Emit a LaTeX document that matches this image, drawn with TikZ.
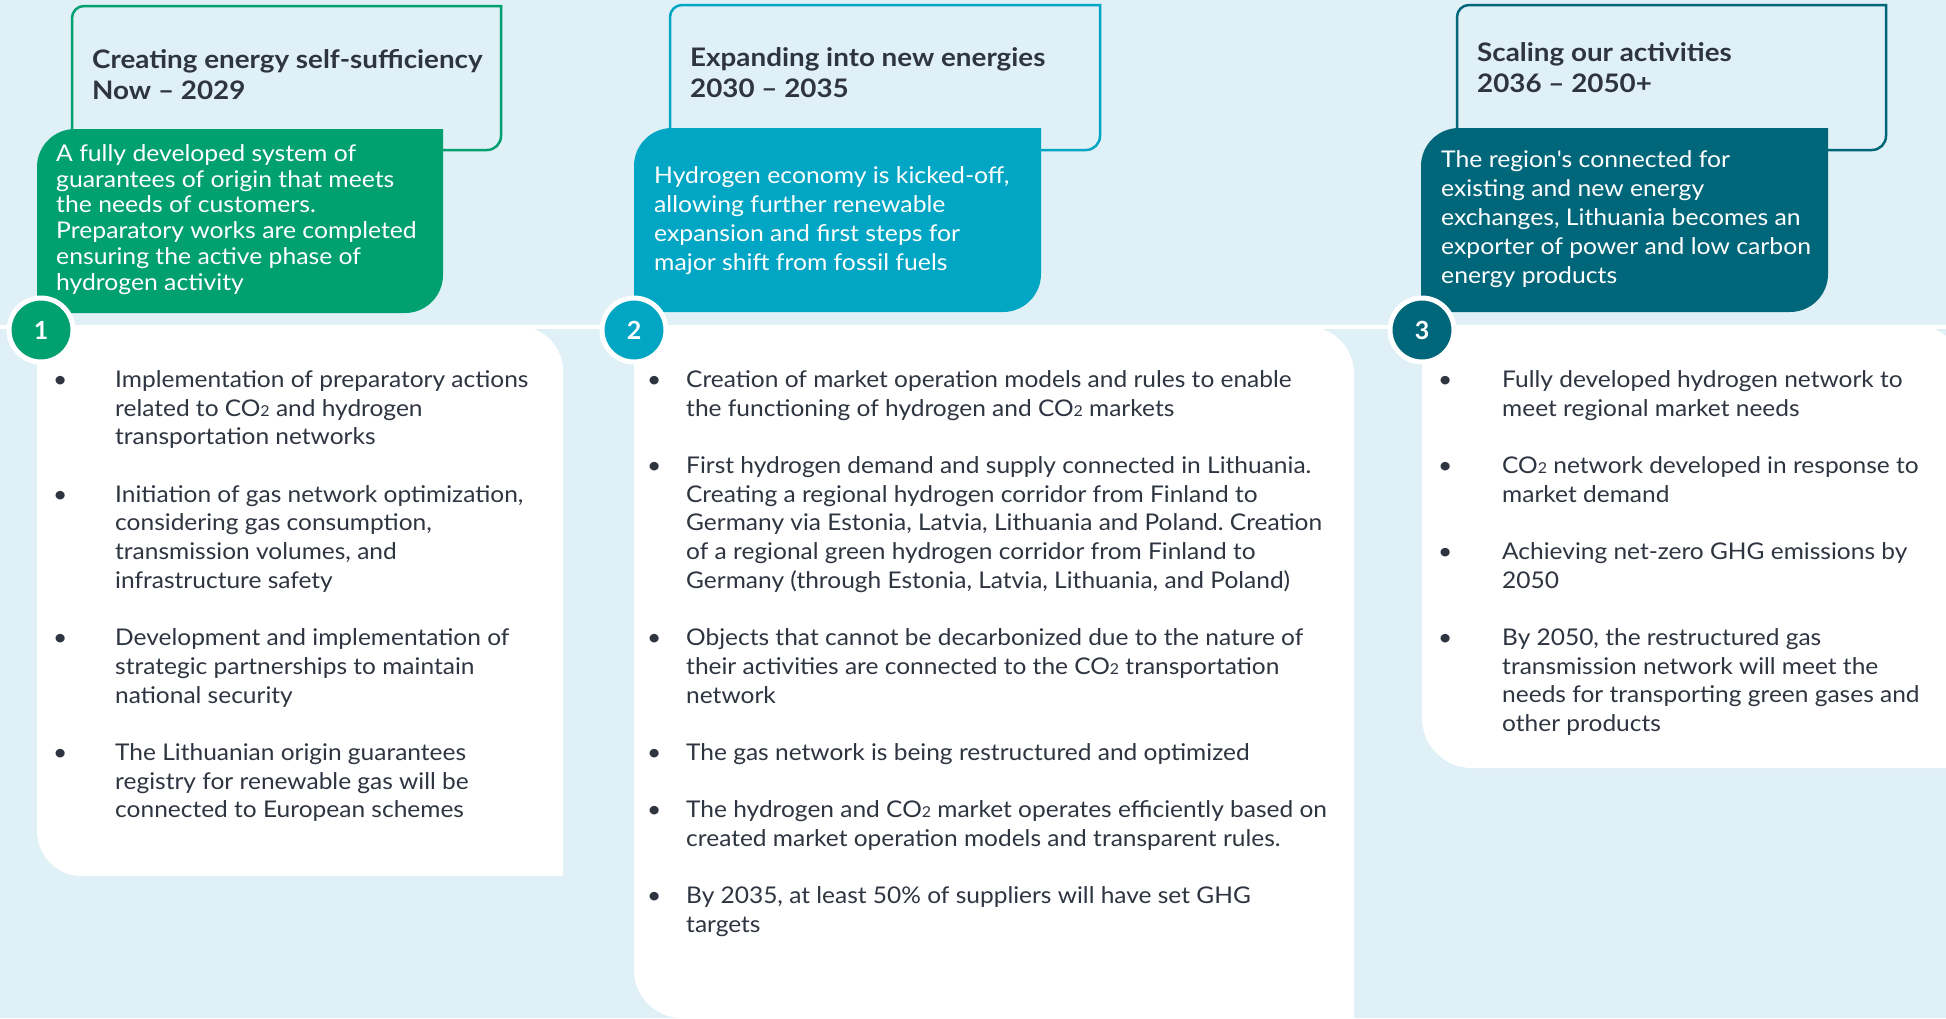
\documentclass[tikz,border=0pt]{standalone}
\usepackage{fontspec}
\setmainfont{Lato}
\newfontfamily\bodyfont[FakeStretch=1.065]{Lato}
\newfontfamily\headfont[FakeStretch=1.09]{Lato}
\newfontfamily\boxfont[FakeStretch=1.075]{Lato}
\definecolor{bg}{HTML}{E0F0F7}
\definecolor{cgreen}{HTML}{00A06F}
\definecolor{cblue}{HTML}{00A6C4}
\definecolor{cteal}{HTML}{00677A}
\definecolor{ink}{HTML}{2E3440}
\newcommand\cotwo{CO{\fontsize{15}{15}\selectfont 2}}
\frenchspacing
\tikzset{
  hdrline/.style={draw=#1, line width=2.5pt},
  hdrtext/.style={font=\headfont\bfseries\fontsize{25.5}{31}\selectfont, text=ink, align=left, inner sep=0pt, anchor=north west},
  boxtext/.style={font=\boxfont\fontsize{23}{#1}\selectfont, text=white, align=left, inner sep=0pt, anchor=north west},
  bodytext/.style={font=\bodyfont\frenchspacing\fontsize{23}{28.7}\selectfont, text=ink, inner sep=0pt, anchor=north west},
  numdot/.style={circle, fill=#1, draw=white, line width=5pt, minimum size=64pt, inner sep=0pt, text=white, font=\bfseries\fontsize{25}{25}\selectfont},
}
\begin{document}
\begin{tikzpicture}[x=1pt,y=-1pt]
\useasboundingbox (0,0) rectangle (1946,1018);
\fill[bg] (0,0) rectangle (1946,1018);
% timeline
\draw[white, line width=4pt] (0,327) coordinate (tl0) -- (1946,327) coordinate (tl1);
% white panels (top-right and bottom-left rounded)
\fill[white] (37,600) [sharp corners] -- (37,326) -- (300,326) [rounded corners=45pt] -- (563,326) -- (563,600) [sharp corners] -- (563,876) -- (300,876) [rounded corners=45pt] -- (37,876) -- cycle;
\fill[white] (634,670) [sharp corners] -- (634,326) -- (1000,326) [rounded corners=48pt] -- (1354,326) -- (1354,670) [sharp corners] -- (1354,1018) -- (1000,1018) [rounded corners=48pt] -- (634,1018) -- cycle;
\fill[white] (1422,550) [sharp corners] -- (1422,325) -- (1700,325) [rounded corners=50pt] -- (1965,325) -- (1965,550) [sharp corners] -- (1965,768) -- (1700,768) [rounded corners=50pt] -- (1422,768) -- cycle;
% header outlines
\draw[hdrline=cgreen] (72,80) [rounded corners=12pt] -- (72,6) -- (290,6) [sharp corners] -- (501,6) -- (501,80) [rounded corners=14pt] -- (501,150) -- (290,150) [sharp corners] -- (72,150) -- cycle;
\draw[hdrline=cblue] (670,80) [rounded corners=12pt] -- (670,5) -- (880,5) [sharp corners] -- (1100,5) -- (1100,80) [rounded corners=14pt] -- (1100,150) -- (880,150) [sharp corners] -- (670,150) -- cycle;
\draw[hdrline=cteal] (1457,80) [rounded corners=12pt] -- (1457,5) -- (1670,5) [sharp corners] -- (1886,5) -- (1886,80) [rounded corners=14pt] -- (1886,150) -- (1670,150) [sharp corners] -- (1457,150) -- cycle;
% coloured boxes (top-left and bottom-right rounded)
\fill[cgreen] (37,220) [rounded corners=38pt] -- (37,129) -- (240,129) [sharp corners] -- (443,129) -- (443,220) [rounded corners=38pt] -- (443,313) -- (240,313) [sharp corners] -- (37,313) -- cycle;
\fill[cblue] (634,220) [rounded corners=38pt] -- (634,128) -- (840,128) [sharp corners] -- (1041,128) -- (1041,220) [rounded corners=38pt] -- (1041,312) -- (840,312) [sharp corners] -- (634,312) -- cycle;
\fill[cteal] (1421,220) [rounded corners=38pt] -- (1421,128) -- (1620,128) [sharp corners] -- (1828,128) -- (1828,220) [rounded corners=38pt] -- (1828,312) -- (1620,312) [sharp corners] -- (1421,312) -- cycle;
% number circles
\node[numdot=cgreen] (n1) at (41,330) {1};
\node[numdot=cblue] (n2) at (634,330) {2};
\node[numdot=cteal] (n3) at (1422,330) {3};
% header texts
\node[hdrtext] (h1) at (92,46.3) {\strut Creating energy self-sufficiency\\Now – 2029};
\node[hdrtext] (h2) at (690,44.3) {\strut Expanding into new energies\\2030 – 2035};
\node[hdrtext] (h3) at (1477,39.3) {\strut Scaling our activities\\2036 – 2050+};
% box texts
\node[boxtext=25.8] (s1) at (56,143) {\strut A fully developed system of\\guarantees of origin that meets\\the needs of customers.\\Preparatory works are completed\\ensuring the active phase of\\hydrogen activity};
\node[boxtext=29] (s2) at (654,163) {\strut Hydrogen economy is kicked-off,\\allowing further renewable\\expansion and first steps for\\major shift from fossil fuels};
\node[boxtext=29] (s3) at (1441,146.7) {\strut The region\textquotesingle s connected for\\existing and new energy\\exchanges, Lithuania becomes an\\exporter of power and low carbon\\energy products};
% bullet lists
\node[bodytext] (l1) at (53,367) {\begin{tabular}{@{}p{62pt}@{}l@{}}
\textbullet & Implementation of preparatory actions\\
 & related to \cotwo{} and hydrogen\\
 & transportation networks\\
 & \\
\textbullet & Initiation of gas network optimization,\\
 & considering gas consumption,\\
 & transmission volumes, and\\
 & infrastructure safety\\
 & \\
\textbullet & Development and implementation of\\
 & strategic partnerships to maintain\\
 & national security\\
 & \\
\textbullet & The Lithuanian origin guarantees\\
 & registry for renewable gas will be\\
 & connected to European schemes
\end{tabular}};
\node[bodytext] (l2) at (647,367) {\begin{tabular}{@{}p{39pt}@{}l@{}}
\textbullet & Creation of market operation models and rules to enable\\
 & the functioning of hydrogen and \cotwo{} markets\\
 & \\
\textbullet & First hydrogen demand and supply connected in Lithuania.\\
 & Creating a regional hydrogen corridor from Finland to\\
 & Germany via Estonia, Latvia, Lithuania and Poland. Creation\\
 & of a regional green hydrogen corridor from Finland to\\
 & Germany (through Estonia, Latvia, Lithuania, and Poland)\\
 & \\
\textbullet & Objects that cannot be decarbonized due to the nature of\\
 & their activities are connected to the \cotwo{} transportation\\
 & network\\
 & \\
\textbullet & The gas network is being restructured and optimized\\
 & \\
\textbullet & The hydrogen and \cotwo{} market operates efficiently based on\\
 & created market operation models and transparent rules.\\
 & \\
\textbullet & By 2035, at least 50\% of suppliers will have set GHG\\
 & targets
\end{tabular}};
\node[bodytext] (l3) at (1438,367) {\begin{tabular}{@{}p{64pt}@{}l@{}}
\textbullet & Fully developed hydrogen network to\\
 & meet regional market needs\\
 & \\
\textbullet & \cotwo{} network developed in response to\\
 & market demand\\
 & \\
\textbullet & Achieving net-zero GHG emissions by\\
 & 2050\\
 & \\
\textbullet & By 2050, the restructured gas\\
 & transmission network will meet the\\
 & needs for transporting green gases and\\
 & other products
\end{tabular}};
\end{tikzpicture}
\end{document}
